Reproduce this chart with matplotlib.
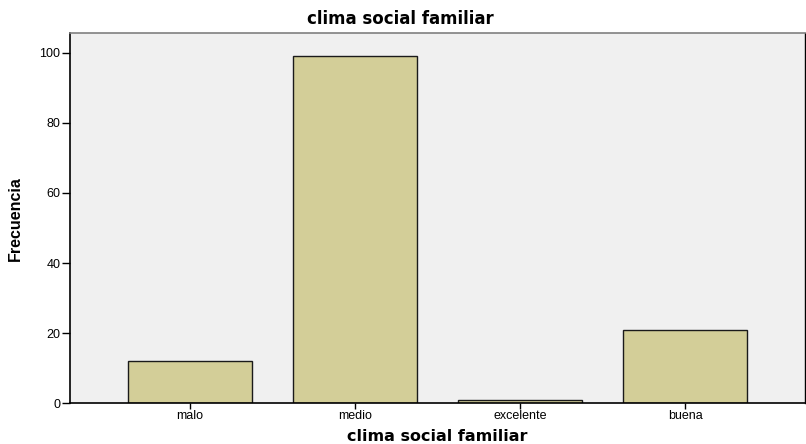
import matplotlib.pyplot as plt

plt.rcParams['font.family'] = ['Liberation Sans', 'DejaVu Sans']

categorias = ["malo", "medio", "excelente", "buena"]
frecuencias = [12, 99, 1, 21]

fig = plt.figure(figsize=(8.06, 4.44), dpi=100)
ax = fig.add_axes([0.0868, 0.0917, 0.9120, 0.834])
ax.set_facecolor("#f0f0f0")

x = range(len(categorias))
ax.bar(x, frecuencias, width=0.75, color="#d3ce98", edgecolor="#1a1a1a", linewidth=1.0, zorder=2)

ax.set_xlim(-0.727, 3.727)
ax.set_ylim(0, 105.6)
ax.set_yticks([0, 20, 40, 60, 80, 100])
ax.set_xticks(list(x))
ax.set_xticklabels(categorias)
ax.tick_params(axis="y", direction="out", length=6, width=1, labelsize=9, pad=1)
ax.tick_params(axis="x", direction="out", length=4, width=1, labelsize=9, pad=1)

for s in ["left", "bottom"]:
    ax.spines[s].set_color("black")
    ax.spines[s].set_linewidth(1.2)
ax.spines["top"].set_color("#808080")
ax.spines["top"].set_linewidth(1.2)
ax.spines["right"].set_color("black")
ax.spines["right"].set_linewidth(1.0)

# titulo centrado en la figura, como en SPSS
fig.text(0.497, 0.958, "clima social familiar", fontsize=12, fontweight="bold",
         family=["DejaVu Sans"], ha="center", va="center")
ax.set_xlabel("clima social familiar", fontsize=11.5, fontweight="bold",
              family=["DejaVu Sans"], labelpad=5)
ax.set_ylabel("Frecuencia", fontsize=11.5, fontweight="bold", labelpad=12)

plt.savefig("out.png", dpi=100)
